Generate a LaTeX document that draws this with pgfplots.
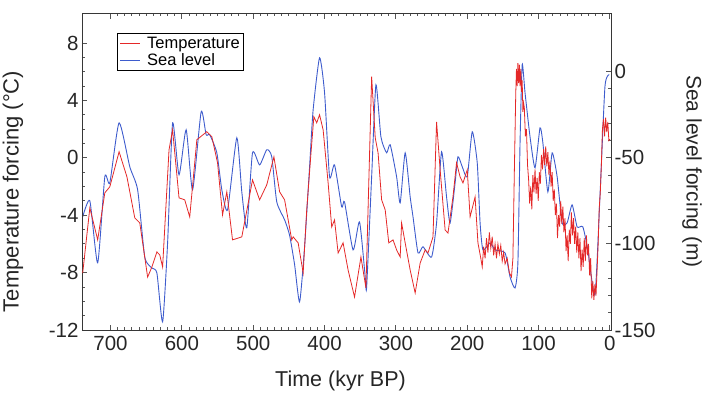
\documentclass[border=0pt]{standalone}
\usepackage{pgfplots}
\pgfplotsset{compat=1.18}
\usepackage{pgfplotstable}
\usepackage{fontspec}
\setmainfont{Liberation Sans}

\definecolor{tempred}{RGB}{228,40,40}
\definecolor{seablue}{RGB}{62,92,205}
\definecolor{axisgray}{RGB}{55,55,55}
\definecolor{tickgray}{RGB}{85,85,85}

% Temperature forcing (deg C) against age (kyr BP)
\pgfplotstableread{
kyr T
739 -8.03
729 -3.49
718 -5.72
708 -2.44
701 -2.02
688 0.42
677 -1.33
666 -4.19
659 -4.54
648 -8.31
642 -7.61
635 -6.56
631 -6.77
627 -7.61
618 0.56
613 1.95
604 -2.79
596 -2.93
589 -4.12
579 1.26
565 1.82
558 1.47
550 -0.35
543 -3.98
537 -2.37
529 -5.72
516 -5.51
508 -3.42
501 -1.54
491 -2.93
481 -1.88
471 0.07
463 -2.37
456 -2.93
446 -5.72
444 -5.51
437 -5.93
430 -8.03
425 -3.63
419 0.35
415 2.86
411 2.44
407 3.00
402 1.95
395 -1.75
390 -4.82
386 -4.33
381 -6.63
374 -5.93
367 -7.82
358 -9.70
349 -6.91
342 -9.07
334 5.65
329 1.40
325 0.35
320 -2.93
315 -3.63
310 -5.93
304 -5.72
299 -6.42
294 -6.91
292 -4.54
287 -5.93
280 -7.82
273 -9.42
266 -7.33
259 -6.42
255 -6.63
248 -5.51
243 2.51
238 -0.84
231 -5.03
227 -5.24
220 -2.72
215 -0.35
210 -1.33
206 -1.75
200 -0.84
196 -4.12
189 -2.72
185 -5.93
181 -7.00
179 -7.60
177 -6.20
175 -7.00
173 -5.60
171 -6.60
169 -5.20
167 -6.30
165 -5.50
163 -6.80
161 -6.00
159 -7.00
157 -6.00
155 -6.70
153 -6.10
151 -7.20
149 -6.60
147 -7.40
144 -7.00
141 -8.00
138 -8.30
136 -7.00
134 -1.00
132 4.50
131 6.20
130 5.00
129 6.60
128 5.20
127 6.50
126 5.00
125 6.20
124 4.60
123 5.40
122 3.20
121 3.80
120 3.50
118.5 1.50
117 2.00
115.5 -0.50
114 -1.50
112.5 -3.20
111 -2.00
109.5 -3.60
108 -1.20
106.5 -2.40
105 -0.80
103.5 -2.50
102 -1.40
100.5 -3.00
99 -1.00
97.5 -1.80
96 0.20
94.5 -0.80
93 0.60
91.5 -0.50
90 0.80
88.5 -0.60
87 0.40
85.5 -1.20
84 -0.20
82.5 -2.00
81 -1.00
79.5 -3.00
78 -2.20
76.5 -4.00
75 -3.20
73.5 -5.60
72 -4.00
70.5 -4.80
69 -3.00
67.5 -4.60
66 -3.40
64.5 -5.20
63 -4.20
61.5 -6.50
60 -5.40
58.5 -7.20
57 -5.00
55.5 -6.00
54 -3.80
52.5 -5.40
51 -4.20
49.5 -6.00
48 -4.80
46.5 -6.60
45 -5.20
43.5 -7.00
42 -5.60
40.5 -7.90
39 -6.40
37.5 -7.60
36 -5.60
34.5 -7.20
33 -5.40
31.5 -6.80
30 -6.00
28.5 -8.20
27 -7.00
25.5 -9.80
24 -8.60
22.5 -9.90
21 -8.80
19.5 -9.60
18 -7.80
16.5 -6.00
15 -3.50
13.5 -2.40
12 -0.50
10.5 2.00
9 2.70
7.5 1.50
6 2.80
4.5 1.80
3 2.50
1.5 1.20
0 1.30
}\temperature

% Sea level forcing (m) against age (kyr BP)
\pgfplotstableread{
kyr SL
739 -84.3
729 -75.0
718 -111.0
708 -61.0
701 -64.5
688 -29.7
673 -55.2
662 -68.6
652 -107.6
642 -114.0
635 -116.9
627 -145.3
620 -99.4
613 -29.7
604 -59.9
594 -33.7
585 -68.6
573 -23.3
566 -36.6
561 -36.6
551 -47.1
544 -68.6
536 -80.2
523 -38.4
516 -69.8
509 -90.7
501 -47.1
491 -54.1
481 -45.3
474 -49.4
467 -75.6
456 -86.0
449 -95.0
442 -112.0
435 -133.7
428 -101.7
421 -55.2
416 -22.1
407 8.1
400 -12.2
393 -61.0
386 -54.1
376 -78.5
372 -75.6
360 -103.5
351 -87.2
343 -119.2
341 -125.0
334 -61.0
328 -7.6
321 -37.8
313 -47.1
308 -42.4
299 -61.0
294 -76.2
287 -47.1
280 -72.7
276 -84.3
269 -105.2
262 -101.7
250 -107.6
243 -87.8
236 -46.5
229 -72.7
224 -87.8
217 -64.5
213 -49.4
207 -55.2
200 -61.0
193 -34.9
186 -52.9
182 -87.8
178 -103.5
168 -99.4
161 -103.5
147 -105.2
140 -119.2
133 -125.6
129 -111.0
126 -41.3
123 4.1
119 -12.2
112 -37.8
105 -55.8
98 -32.6
94 -41.3
87 -69.8
81 -47.1
74 -61.0
67 -87.8
60 -87.8
53 -77.3
46 -90.1
38 -90.1
31 -103.5
21 -129.7
14 -72.7
7 -8.7
1 -1.7
}\sealevel

\begin{document}
\begin{tikzpicture}
\pgfplotsset{
  shared frame/.style={
    at={(0pt,0pt)}, anchor=south west,
    scale only axis, width=529pt, height=317pt,
    x dir=reverse, xmin=-1.5, xmax=740,
    axis line style={axisgray, line width=0.8pt},
    tick style={tickgray, line width=0.9pt},
    major tick length=5.5pt, minor tick length=3pt,
    tick label style={font=\fontsize{20.5}{24}\selectfont, text=black!85},
  },
}
% right-hand axis: sea level
\begin{axis}[shared frame,
  ymin=-150, ymax=34.1,
  xtick=\empty,
  ytick={-150,-100,-50,0},
  yticklabels={-150,-100,-50,0},
  minor y tick num=4,
  ytick pos=right, yticklabel pos=right,
  every axis y label/.style={at={(rel axis cs:1,0.5)}, xshift=81pt, rotate=-90, anchor=center,
    font=\fontsize{21}{25}\selectfont, text=black!85},
  ylabel={Sea level forcing (m)},
]
\addplot[seablue, line width=0.9pt, smooth, tension=0.35] table[x=kyr, y=SL] {\sealevel};
\end{axis}
% left-hand axis: temperature
\begin{axis}[shared frame,
  ymin=-12, ymax=10.09,
  xtick={0,100,...,700},
  xticklabels={0,100,200,300,400,500,600,700},
  minor x tick num=9,
  xtick pos=both, xticklabel pos=bottom,
  xticklabel style={yshift=-3pt},
  ytick={-12,-8,-4,0,4,8},
  yticklabels={-12,-8,-4,0,4,8},
  minor y tick num=3,
  ytick pos=left,
  every axis y label/.style={at={(rel axis cs:0,0.437)}, xshift=-69pt, rotate=90, anchor=center,
    font=\fontsize{22}{26}\selectfont, text=black!85},
  every axis x label/.style={at={(rel axis cs:0.5,0)}, xshift=-6pt, yshift=-51pt, anchor=center,
    font=\fontsize{21.5}{25}\selectfont, text=black!85},
  xlabel={Time (kyr BP)},
  ylabel={Temperature forcing (°C)},
  legend cell align=left,
  legend image code/.code={\draw[#1] (0pt,0pt) -- (20pt,0pt);},
  legend style={at={(0.066,0.937)}, anchor=north west, draw=black, line width=0.8pt,
    font=\fontsize{16.5}{17}\selectfont, inner sep=2.5pt, row sep=0pt, column sep=5pt,
    nodes={inner sep=1.5pt}},
]
\addplot[tempred, line width=0.8pt] table[x=kyr, y=T] {\temperature};
\addlegendentry{Temperature}
\addlegendimage{seablue, line width=0.9pt}
\addlegendentry{Sea level}
\end{axis}
\pgfresetboundingbox
\useasboundingbox (-82pt,-70pt) rectangle (632pt,330pt);
\end{tikzpicture}
\end{document}
